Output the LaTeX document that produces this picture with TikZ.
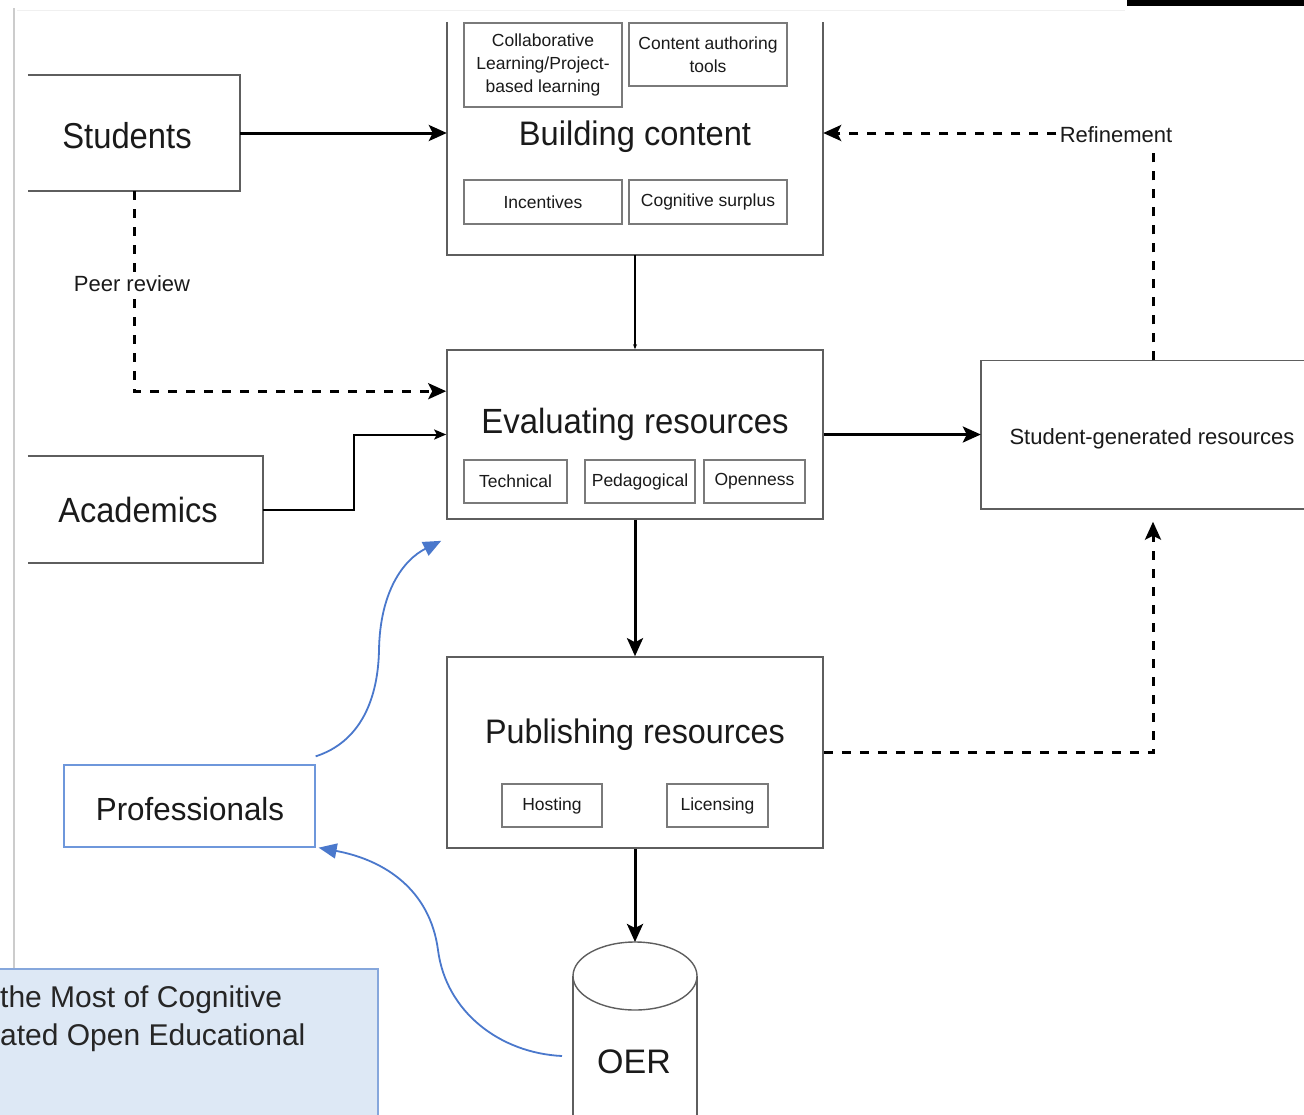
\documentclass[tikz,border=0pt]{standalone}
\usepackage{fontspec}
\setmainfont{Liberation Sans}
\usetikzlibrary{arrows.meta}

\definecolor{ink}{HTML}{1A1A1A}
\definecolor{frame}{HTML}{5E5E5E}
\definecolor{subframe}{HTML}{7A7A7A}
\definecolor{linkblue}{HTML}{4A78CC}
\definecolor{profedge}{HTML}{6E97DB}
\definecolor{notefill}{HTML}{DDE8F5}
\definecolor{noteedge}{HTML}{86A7DC}
\definecolor{notetext}{HTML}{262626}

\newcommand\txtsize[2]{\fontsize{#1}{#2}\selectfont}

\begin{document}
\begin{tikzpicture}[x=1pt,y=-1pt,
  every node/.style={text=ink, inner sep=0pt},
  stagebox/.style={draw=frame, line width=1.6pt, minimum width=376pt},
  sidelines/.style={draw=frame, line width=1.6pt},
  title/.style={anchor=base, font=\txtsize{33}{38}},
  subbox/.style={draw=subframe, line width=1.4pt, align=center,
    font=\txtsize{17.5}{23}},
  thickarrow/.style={draw=black, line width=3pt,
    -{Stealth[length=18pt,width=16pt,inset=4pt]}},
  thinarrow/.style={draw=black, line width=2pt,
    -{Stealth[length=12pt,width=10pt,inset=2.5pt]}},
  dasharrow/.style={draw=black, line width=3pt, dash pattern=on 9pt off 9pt,
    -{Stealth[length=18pt,width=16pt,inset=4pt]}},
  bluearrow/.style={draw=linkblue, line width=1.8pt,
    -{Triangle[length=18pt,width=15pt]}},
  tag/.style={font=\txtsize{22}{26}, fill=white, inner sep=1pt}]

% page
\fill[white] (0,0) rectangle (1304,1114);
\useasboundingbox (0,0) rectangle (1304,1114);

% window edges
\draw[gray!40, line width=1.2pt] (14,8) -- (14,969);
\draw[gray!12, line width=1pt] (17,10) -- (1125,10);
\fill[black] (1127,-2) rectangle (1306,6);

% ---- Students ----
\node[minimum width=212pt, minimum height=116pt] (stu) at (134,133) {};
\draw[sidelines] (stu.north west) -- (stu.north east) -- (stu.south east) -- (stu.south west);
\node[title, font=\txtsize{36}{40}] (stutitle) at (127,148) {\scalebox{0.91}[1]{Students}};

% ---- Academics ----
\node[minimum width=235pt, minimum height=107pt] (aca) at (145.5,509.5) {};
\draw[sidelines] (aca.north west) -- (aca.north east) -- (aca.south east) -- (aca.south west);
\node[title, font=\txtsize{35}{40}] (acatitle) at (138,522) {\scalebox{0.93}[1]{Academics}};

% ---- Building content ----
\node[minimum width=376pt, minimum height=244pt] (bc) at (635,133) {};
\draw[sidelines] ([yshift=-11pt]bc.north west) -- (bc.south west) -- (bc.south east) -- ([yshift=-11pt]bc.north east);
\node[title, font=\txtsize{34}{40}] (bctitle) at (635,145) {\scalebox{0.96}[1]{Building content}};
\node[subbox, minimum width=158pt, minimum height=84pt] (collab) at (543,65)
  {Collaborative\\Learning/Project-\\based learning};
\node[subbox, minimum width=158pt, minimum height=63pt] (author) at (708,54.5)
  {Content authoring\\tools};
\node[subbox, minimum width=158pt, minimum height=44pt] (incent) at (543,202) {Incentives};
\node[subbox, minimum width=158pt, minimum height=44pt] (surplus) at (708,202) {Cognitive surplus};

% ---- Evaluating resources ----
\node[stagebox, minimum height=169pt] (ev) at (635,434.5) {};
\node[title, font=\txtsize{35}{40}] (evtitle) at (635,433) {\scalebox{0.94}[1]{Evaluating resources}};
\node[subbox, minimum width=103pt, minimum height=43pt] (tech) at (515.5,481.5) {Technical};
\node[subbox, minimum width=110pt, minimum height=43pt] (peda) at (640,481.5) {Pedagogical};
\node[subbox, minimum width=101pt, minimum height=43pt] (open) at (754.5,481.5) {Openness};

% ---- Publishing resources ----
\node[stagebox, minimum height=191pt] (pub) at (635,752.5) {};
\node[title, font=\txtsize{34}{40}] (pubtitle) at (635,743) {\scalebox{0.95}[1]{Publishing resources}};
\node[subbox, minimum width=100pt, minimum height=43pt] (host) at (552,805.5) {Hosting};
\node[subbox, minimum width=101pt, minimum height=43pt] (lic) at (717.5,805.5) {Licensing};

% ---- Student-generated resources ----
\node[minimum width=344pt, minimum height=148pt] (sg) at (1153,434.5) {};
\draw[sidelines] (sg.north east) -- (sg.north west) -- (sg.south west) -- (sg.south east);
\node[anchor=base, font=\txtsize{22}{26}] (sgtitle) at (1152,444) {Student-generated resources};

% ---- OER store ----
\coordinate (oertop) at (635,942);
\draw[frame, line width=1.4pt] (573,976) -- (573,1125);
\draw[frame, line width=1.4pt] (697,976) -- (697,1125);
\fill[white] (635,976) ellipse [x radius=62, y radius=34];
\draw[frame, line width=1.4pt] (635,976) ellipse [x radius=62, y radius=34];
\node[title, font=\txtsize{34}{40}] (oer) at (634,1073) {OER};
\coordinate (oerleft) at (562,1056);

% ---- Professionals ----
\node[draw=profedge, line width=1.3pt, minimum width=251pt, minimum height=82pt] (prof) at (189.5,806) {};
\node[title, font=\txtsize{32}{38}] (proftitle) at (190,820) {\scalebox{0.98}[1]{Professionals}};

% ---- connectors ----
\draw[thickarrow] (stu.east) -- (bc.west);
\draw[line width=1.3pt, -{Stealth[length=5pt,width=4pt]}] (bc.south) -- (ev.north);
\draw[thinarrow] (aca.east) -- ++(91,0) |- (ev.west);
\draw[dasharrow] (stu.south) |- ([yshift=-42pt]ev.north west);
\node[tag] (peer) at (132,284) {Peer review};
\draw[thickarrow] (ev.east) -- (sg.west);
\draw[thickarrow] (ev.south) -- (pub.north);
\draw[thickarrow] (pub.south) -- (oertop);
\draw[dasharrow] (pub.east) -| ([yshift=-13pt]sg.south);
\draw[dasharrow] (sg.north) -- (sg.north |- bc.east) -- (bc.east);
\node[tag] (refine) at (1116,135) {Refinement};

% blue feedback curves
\coordinate (profout) at ([yshift=8pt]prof.north east);
\coordinate (evin) at ([xshift=-5pt,yshift=-21pt]ev.south west);
\draw[bluearrow] (profout) .. controls (360,742) and (378,700) .. (379,650)
  .. controls (380,592) and (403,560) .. (evin);
\coordinate (profin) at ([xshift=3pt]prof.south east);
\draw[bluearrow] (oerleft) .. controls (500,1053) and (446,1012) .. (438,950)
  .. controls (430,890) and (385,860) .. (profin);

% ---- note panel ----
\path[fill=notefill, draw=noteedge, line width=1.5pt] (-5,969) rectangle (378,1125);
\node[anchor=base west, text=notetext, font=\txtsize{30}{36}] (noteA) at (0,1007) {the Most of Cognitive};
\node[anchor=base west, text=notetext, font=\txtsize{30}{36}] (noteB) at (0,1045) {ated Open Educational};

\end{tikzpicture}
\end{document}
